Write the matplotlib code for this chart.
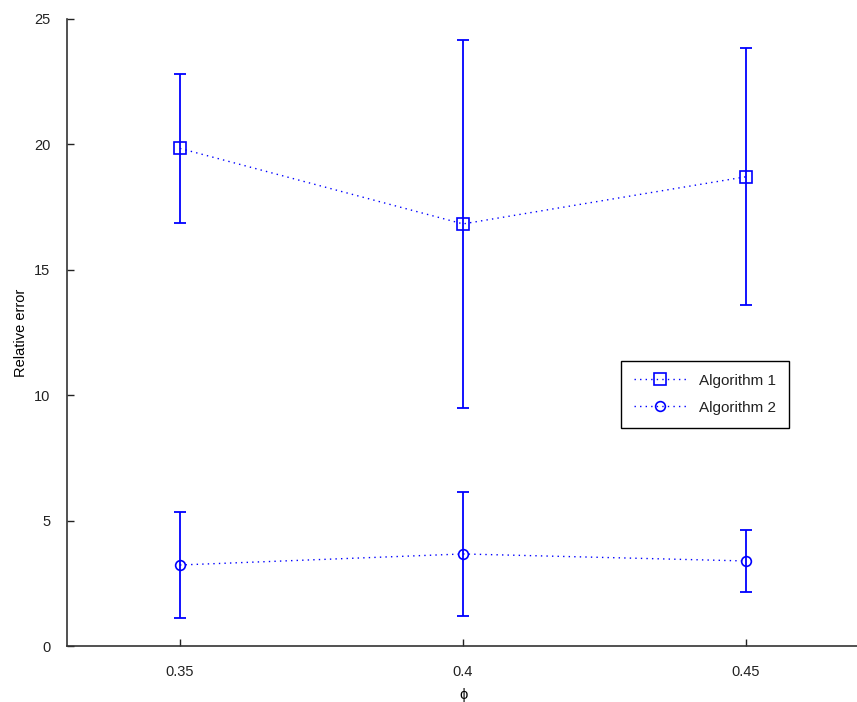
import matplotlib
matplotlib.use("Agg")
import matplotlib.pyplot as plt

# values
phi = [0.35, 0.4, 0.45]
alg1 = [19.84, 16.83, 18.71]
alg1_err = [2.96, 7.35, 5.13]
alg2 = [3.23, 3.67, 3.39]
alg2_err = [2.13, 2.49, 1.24]
labels = ["Algorithm 1", "Algorithm 2"]
xticks = [0.35, 0.4, 0.45]
yticks = [0, 5, 10, 15, 20, 25]

plt.rcParams['font.family'] = ['Liberation Sans', 'DejaVu Sans']
plt.rcParams['font.size'] = 10.5

fig = plt.figure(figsize=(8.57, 7.02), dpi=100)
ax = fig.add_axes([66.8 / 857, 56 / 702, 792.4 / 857, 627 / 702])

blue = '#0000ff'
for y, err, mk, ms, lab in [(alg1, alg1_err, 's', 8, labels[0]),
                            (alg2, alg2_err, 'o', 7, labels[1])]:
    # error bars
    ax.errorbar(phi, y, yerr=err, fmt='none', ecolor=blue, elinewidth=1.3,
                capsize=4.5, capthick=1.3)
    # dotted connecting line with open markers
    ax.plot(phi, y, color=blue, linestyle=(0, (1, 3)), linewidth=1.0,
            marker=mk, markersize=ms, markerfacecolor='none',
            markeredgecolor=blue, markeredgewidth=1.2, label=lab)

ax.set_xlim(0.33, 0.47)
ax.set_ylim(0, 25)
ax.set_xticks(xticks)
ax.set_xticklabels(['0.35', '0.4', '0.45'])
ax.set_yticks(yticks)
ax.tick_params(direction='in', length=5, width=1, colors='#222222', pad=14)
ax.tick_params(axis='y', pad=12)
for side in ['top', 'right']:
    ax.spines[side].set_visible(False)
for side in ['left', 'bottom']:
    ax.spines[side].set_linewidth(1.2)
    ax.spines[side].set_color('#333333')

ax.set_xlabel('ϕ', labelpad=6)
ax.set_ylabel('Relative error', labelpad=4)

leg = ax.legend(loc='lower left', bbox_to_anchor=(0.699, 0.348),
                fancybox=False, edgecolor='black', framealpha=1,
                handlelength=3.4, borderpad=0.85, labelspacing=0.85,
                handletextpad=0.9, fontsize=11, borderaxespad=0)
leg.get_frame().set_linewidth(1.0)
for t in leg.get_texts():
    t.set_color('#222222')

fig.savefig('out.png', dpi=100)
